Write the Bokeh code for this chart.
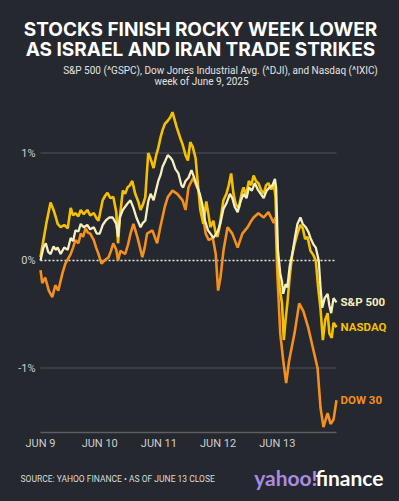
from bokeh.plotting import figure
from bokeh.models import Label
from bokeh.core.properties import value
from bokeh.embed import file_html
from bokeh.resources import INLINE

# ---- data (percent change vs. June 9 open; time in trading days from Jun 9 open) ----
days = ["JUN 9", "JUN 10", "JUN 11", "JUN 12", "JUN 13"]
day_pos = [0, 1, 2, 3, 4]
y_ticks = [-1, 0, 1]
y_tick_labels = ["-1%", "0%", "1%"]

nasdaq_t = [0, 0.05, 0.10, 0.17, 0.22, 0.26, 0.29, 0.34, 0.40, 0.46, 0.51, 0.55, 0.59, 0.64, 0.68,
            0.73, 0.79, 0.84, 0.90, 0.95, 0.98, 1.05, 1.09, 1.13, 1.18, 1.23, 1.28, 1.31, 1.34, 1.39,
            1.43, 1.47, 1.51, 1.55, 1.60, 1.65, 1.69, 1.73, 1.77, 1.82, 1.87, 1.91, 1.95, 1.99, 2.03,
            2.06, 2.10, 2.15, 2.19, 2.23, 2.26, 2.30, 2.36, 2.40, 2.45, 2.49, 2.53, 2.57, 2.62, 2.66,
            2.70, 2.75, 2.80, 2.84, 2.87, 2.92, 2.96, 2.99, 3.02, 3.06, 3.09, 3.14, 3.18, 3.22, 3.26,
            3.30, 3.35, 3.40, 3.43, 3.47, 3.52, 3.56, 3.60, 3.64, 3.68, 3.73, 3.77, 3.81, 3.85, 3.90,
            3.94, 3.97, 4.00, 4.04, 4.08, 4.11, 4.14, 4.17, 4.21, 4.25, 4.29, 4.34, 4.39, 4.43, 4.47,
            4.51, 4.56, 4.61, 4.65, 4.69, 4.73, 4.77, 4.81, 4.85, 4.88, 4.92, 4.95, 5.0]
nasdaq_v = [0.03, 0.19, 0.35, 0.54, 0.47, 0.40, 0.34, 0.31, 0.33, 0.30, 0.49, 0.42, 0.44, 0.41, 0.47,
            0.43, 0.47, 0.42, 0.44, 0.39, 0.37, 0.56, 0.60, 0.63, 0.58, 0.59, 0.45, 0.16, 0.40, 0.65,
            0.62, 0.68, 0.70, 0.74, 0.62, 0.55, 0.47, 0.52, 0.59, 1.00, 0.93, 0.86, 0.97, 1.05, 1.15,
            1.21, 1.27, 1.30, 1.33, 1.38, 1.32, 1.24, 1.14, 1.08, 0.98, 0.93, 1.10, 1.06, 0.95, 0.70,
            0.47, 0.34, 0.55, 0.42, 0.31, 0.37, 0.25, 0.22, 0.30, 0.45, 0.56, 0.62, 0.70, 0.81, 0.62,
            0.52, 0.49, 0.63, 0.68, 0.60, 0.74, 0.70, 0.79, 0.74, 0.72, 0.65, 0.62, 0.70, 0.72, 0.66,
            0.72, 0.59, 0.05, -0.25, -0.40, -0.74, -0.55, -0.40, -0.15, 0.05, 0.15, 0.25, 0.33, 0.30, 0.20,
            0.22, 0.09, 0.05, 0.00, -0.25, -0.45, -0.74, -0.55, -0.49, -0.68, -0.72, -0.58, -0.62]

sp500_t = [0, 0.05, 0.09, 0.13, 0.17, 0.22, 0.26, 0.29, 0.34, 0.40, 0.46, 0.51, 0.55, 0.59, 0.64,
           0.68, 0.73, 0.79, 0.84, 0.90, 0.95, 1.00, 1.05, 1.10, 1.16, 1.22, 1.28, 1.31, 1.34, 1.39,
           1.43, 1.47, 1.52, 1.57, 1.62, 1.69, 1.73, 1.77, 1.82, 1.86, 1.91, 1.95, 1.99, 2.03, 2.06,
           2.11, 2.15, 2.19, 2.23, 2.28, 2.33, 2.38, 2.41, 2.45, 2.50, 2.55, 2.59, 2.64, 2.69, 2.73,
           2.78, 2.83, 2.87, 2.92, 2.96, 3.00, 3.04, 3.09, 3.14, 3.20, 3.24, 3.28, 3.33, 3.38, 3.43,
           3.48, 3.52, 3.57, 3.62, 3.67, 3.72, 3.77, 3.82, 3.87, 3.92, 3.96, 3.98, 4.01, 4.05, 4.08,
           4.10, 4.14, 4.17, 4.21, 4.25, 4.30, 4.34, 4.39, 4.43, 4.48, 4.53, 4.56, 4.61, 4.65, 4.70,
           4.73, 4.76, 4.80, 4.85, 4.88, 4.91, 4.95, 5.0]
sp500_v = [0.00, 0.12, 0.16, 0.08, 0.06, 0.13, 0.10, 0.12, 0.06, 0.12, 0.10, 0.21, 0.18, 0.28, 0.27,
           0.34, 0.31, 0.33, 0.29, 0.31, 0.25, 0.25, 0.33, 0.37, 0.40, 0.40, 0.34, 0.22, 0.40, 0.47,
           0.50, 0.53, 0.56, 0.49, 0.40, 0.31, 0.35, 0.37, 0.55, 0.62, 0.56, 0.65, 0.74, 0.80, 0.87,
           0.93, 0.98, 0.96, 0.93, 0.85, 0.81, 0.70, 0.68, 0.74, 0.77, 0.84, 0.78, 0.70, 0.62, 0.53,
           0.37, 0.28, 0.25, 0.21, 0.24, 0.28, 0.35, 0.48, 0.53, 0.62, 0.58, 0.50, 0.45, 0.55, 0.62,
           0.58, 0.68, 0.65, 0.72, 0.66, 0.62, 0.58, 0.65, 0.68, 0.70, 0.76, 0.68, 0.10, -0.12, -0.20,
           -0.31, -0.22, -0.25, -0.05, 0.05, 0.22, 0.34, 0.40, 0.34, 0.31, 0.26, 0.21, 0.15, 0.12, 0.00,
           -0.25, -0.44, -0.35, -0.31, -0.42, -0.49, -0.35, -0.39]

dow_t = [0, 0.03, 0.08, 0.14, 0.20, 0.25, 0.30, 0.37, 0.42, 0.47, 0.51, 0.55, 0.59, 0.64, 0.68,
         0.72, 0.76, 0.80, 0.84, 0.90, 0.94, 0.98, 1.03, 1.08, 1.15, 1.19, 1.23, 1.28, 1.31, 1.35,
         1.43, 1.48, 1.52, 1.57, 1.64, 1.72, 1.76, 1.80, 1.89, 1.97, 2.02, 2.06, 2.10, 2.15, 2.23,
         2.31, 2.40, 2.45, 2.50, 2.58, 2.63, 2.67, 2.74, 2.79, 2.84, 2.91, 2.96, 3.00, 3.04, 3.09,
         3.16, 3.24, 3.33, 3.41, 3.50, 3.55, 3.60, 3.68, 3.77, 3.85, 3.94, 3.97, 4.00, 4.05, 4.10,
         4.15, 4.20, 4.29, 4.37, 4.44, 4.52, 4.60, 4.68, 4.73, 4.78, 4.85, 4.90, 4.95, 5.0]
dow_v = [-0.09, -0.21, -0.16, -0.28, -0.34, -0.23, -0.28, -0.12, -0.03, 0.02, 0.06, 0.12, 0.19, 0.16, 0.25,
         0.22, 0.30, 0.26, 0.25, 0.19, 0.12, 0.06, -0.03, 0.00, 0.03, 0.09, 0.16, 0.10, 0.00, 0.09,
         0.06, 0.15, 0.25, 0.34, 0.21, 0.03, 0.12, 0.25, 0.28, 0.16, 0.30, 0.40, 0.50, 0.59, 0.65,
         0.62, 0.56, 0.47, 0.68, 0.77, 0.70, 0.65, 0.44, 0.25, 0.19, 0.21, 0.06, -0.28, -0.16, 0.09,
         0.31, 0.25, 0.12, 0.25, 0.31, 0.36, 0.40, 0.44, 0.40, 0.45, 0.35, 0.40, -0.12, -0.68, -0.93,
         -1.14, -0.93, -0.68, -0.40, -0.47, -0.62, -0.81, -1.00, -1.37, -1.55, -1.42, -1.52, -1.48, -1.30]

series_names = ["S&P 500", "NASDAQ", "DOW 30"]
x_end = 5
y_floor = -1.6

# ---- style ----
BG = "#25282e"
C_SP = "#f6efbf"
C_NQ = "#f5c000"
C_DOW = "#f5901c"

W, H = 399, 501
PX_DAY, PX_PCT = 59.2, 107.5     # pixels per trading day / per 1 %
X0_PX, Y0_PX = 40, 260           # canvas pixel of (day 0, 0 %)

def X(px):
    return (px - X0_PX) / PX_DAY

def Y(py):
    return (Y0_PX - py) / PX_PCT

p = figure(width=W, height=H, output_backend="svg", toolbar_location=None,
           x_range=(X(0), X(W)), y_range=(Y(H), Y(0)),
           min_border=0, background_fill_color=BG, border_fill_color=BG, outline_line_color=None)
p.axis.visible = False
p.grid.visible = False

# gridlines & axis line
grid_y = [t for t in y_ticks if t != 0]
p.segment(x0=[0] * len(grid_y), x1=[x_end] * len(grid_y), y0=grid_y, y1=grid_y, line_color="#52555c", line_width=1)
p.segment(x0=[0], x1=[x_end], y0=[0], y1=[0], line_color="#e8e8e8", line_width=1.5, line_dash="2 2")
p.segment(x0=[0], x1=[x_end], y0=[y_floor], y1=[y_floor], line_color="#5c5f66", line_width=1.5)

# tick labels
p.text(x=[X(35)] * len(y_ticks), y=y_ticks, text=y_tick_labels, text_align="right", text_baseline="middle",
       text_color="#cfcfcf", text_font=value("Roboto"), text_font_size="11px")
p.text(x=day_pos, y=[Y(443)] * len(day_pos), text=days, text_align="center", text_baseline="middle",
       text_color="#cfcfcf", text_font=value("Roboto"), text_font_size="11px")

# series
p.line(dow_t, dow_v, line_color=C_DOW, line_width=2.6)
p.line(nasdaq_t, nasdaq_v, line_color=C_NQ, line_width=2.6)
p.line(sp500_t, sp500_v, line_color=C_SP, line_width=2.3)

# end labels
ends_y = [sp500_v[-1], nasdaq_v[-1], dow_v[-1]]
p.text(x=[x_end] * 3, y=ends_y, text=series_names, x_offset=4, text_align="left", text_baseline="middle",
       text_color=[C_SP, C_NQ, C_DOW], text_font=value("Roboto"), text_font_style="bold", text_font_size="11.5px")

# titles & footer
def txt(s, px, py, size, color="#e6e6e6", bold=False, align="center", font="Roboto"):
    p.add_layout(Label(x=X(px), y=Y(py), text=s, text_color=color, text_font=font,
                       text_font_style="bold" if bold else "normal", text_font_size=size,
                       text_baseline="middle", text_align=align))

txt("STOCKS FINISH ROCKY WEEK LOWER", 200, 29, "19px", "#ffffff", True, font="Inter")
txt("AS ISRAEL AND IRAN TRADE STRIKES", 200, 49, "19px", "#ffffff", True, font="Inter")
txt("S&P 500 (^GSPC), Dow Jones Industrial Avg. (^DJI), and Nasdaq (^IXIC)", 220, 70, "10px", "#e2e2e2")
txt("week of June 9, 2025", 201, 81, "10px", "#e2e2e2")
txt("SOURCE: YAHOO FINANCE \u2022 AS OF JUNE 13 CLOSE", 20, 478, "8.5px", "#dcdcdc", align="left")
txt("yahoo!", 317, 477, "21px", "#a98be3", True, align="right", font="Lato")
txt("finance", 383, 477, "21px", "#ffffff", True, align="right", font="Lato")

html = file_html(p, INLINE)
html = html.replace("<head>", "<head><style>body{background:#25282e;}</style>", 1)
open("out.html", "w").write(html)
